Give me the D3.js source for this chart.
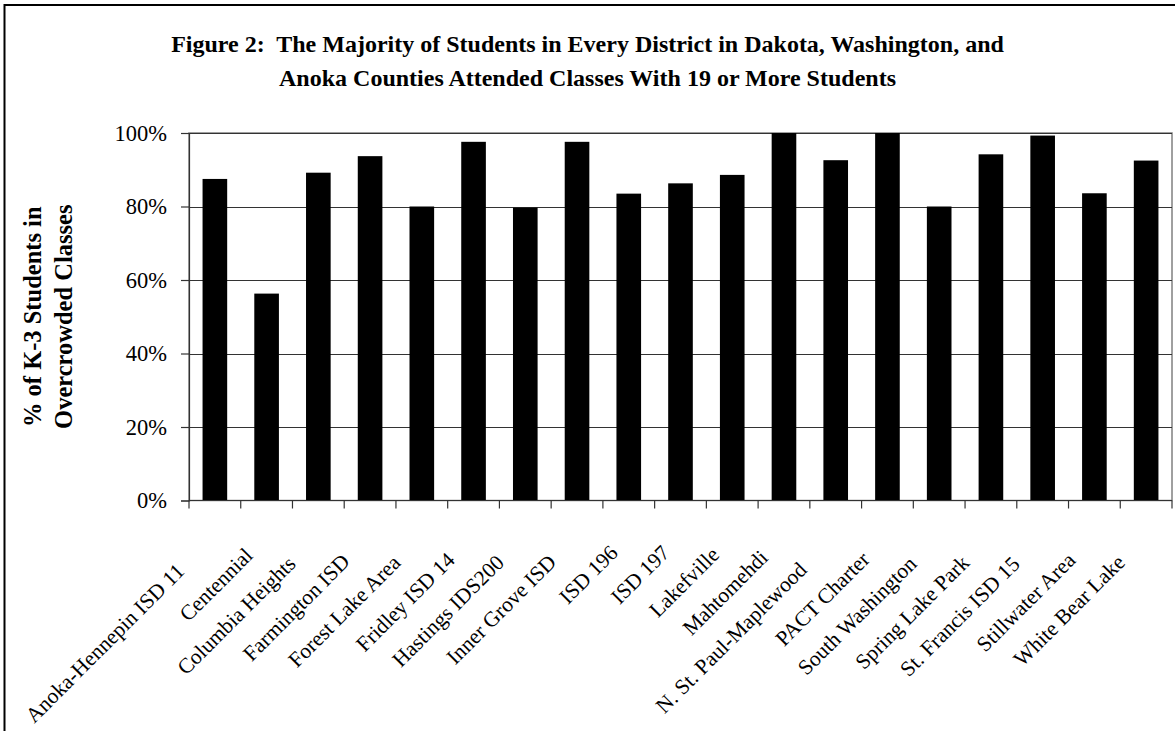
<!DOCTYPE html>
<html>
<head>
<meta charset="utf-8">
<script src="https://cdn.jsdelivr.net/npm/d3@7"></script>
<style>
  html, body { margin: 0; padding: 0; background: #fff; }
  svg { display: block; }
  text { font-family: "Liberation Serif", "Times New Roman", serif; fill: #000; white-space: pre; }
</style>
</head>
<body>
<svg id="chart" width="1175" height="731"></svg>
<script>
const categories = ["Anoka-Hennepin ISD 11","Centennial","Columbia Heights","Farmington ISD","Forest Lake Area","Fridley ISD 14","Hastings IDS200","Inner Grove ISD","ISD 196","ISD 197","Lakefville","Mahtomehdi","N. St. Paul-Maplewood","PACT Charter","South Washington","Spring Lake Park","St. Francis ISD 15","Stillwater Area","White Bear Lake"];
const values = [0.875, 0.563, 0.892, 0.937, 0.80, 0.976, 0.797, 0.976, 0.835, 0.863, 0.886, 1.0, 0.926, 1.0, 0.80, 0.942, 0.993, 0.836, 0.925];
const yTicks = [0, 0.2, 0.4, 0.6, 0.8, 1.0];
const titleLines = ["Figure 2:  The Majority of Students in Every District in Dakota, Washington, and", "Anoka Counties Attended Classes With 19 or More Students"];
const yTitleLines = ["% of K-3 Students in", "Overcrowded Classes"];

const svg = d3.select("#chart");
const W = 1175, H = 731;
const plot = {left: 189, right: 1172, top: 133, bottom: 500.5};

// outer frame
svg.append("rect").attr("x", 4.5).attr("y", 5).attr("width", W + 10).attr("height", H + 10)
  .attr("fill", "#fff").attr("stroke", "#000").attr("stroke-width", 2);

const x = d3.scaleBand().domain(categories).range([plot.left, plot.right]).padding(0);
const y = d3.scaleLinear().domain([0, 1]).range([plot.bottom, plot.top]);

// plot area border
svg.append("rect").attr("x", plot.left).attr("y", plot.top)
  .attr("width", plot.right - plot.left).attr("height", plot.bottom - plot.top)
  .attr("fill", "none").attr("stroke", "#808080").attr("stroke-width", 1.5);

// gridlines
svg.append("g").selectAll("line").data(yTicks.filter(d => d > 0)).join("line")
  .attr("x1", plot.left).attr("x2", plot.right)
  .attr("y1", d => Math.round(y(d)) + 0.5).attr("y2", d => Math.round(y(d)) + 0.5)
  .attr("stroke", "#333").attr("stroke-width", 1.2);

// bars
const bw = x.bandwidth();
const barFrac = 0.476;
svg.append("g").selectAll("rect").data(values).join("rect")
  .attr("x", (d, i) => x(categories[i]) + bw * (1 - barFrac) / 2)
  .attr("width", bw * barFrac)
  .attr("y", d => y(d))
  .attr("height", d => y(0) - y(d))
  .attr("fill", "#000");

// y axis
const yAxis = d3.axisLeft(y).tickValues(yTicks).tickSize(8).tickPadding(14)
  .tickFormat(d => Math.round(d * 100) + "%");
const gy = svg.append("g").attr("transform", `translate(${plot.left},0)`).call(yAxis);
gy.select(".domain").attr("stroke", "#333").attr("stroke-width", 1.2);
gy.selectAll(".tick line").attr("stroke", "#333").attr("stroke-width", 1.2);
gy.selectAll(".tick text").attr("font-size", 22.5).attr("font-family", "Liberation Serif");

// x axis baseline and ticks at category boundaries
const boundaries = categories.map(c => x(c)).concat([plot.right]);
svg.append("line").attr("x1", plot.left).attr("x2", plot.right)
  .attr("y1", y(0)).attr("y2", y(0)).attr("stroke", "#333").attr("stroke-width", 1.2);
svg.append("g").selectAll("line").data(boundaries).join("line")
  .attr("x1", d => d).attr("x2", d => d)
  .attr("y1", y(0)).attr("y2", y(0) + 8)
  .attr("stroke", "#333").attr("stroke-width", 1.2);

// x labels rotated (end-anchored; longer labels sit slightly lower-left, as in the original)
const xl = svg.append("g").selectAll("text").data(categories).join("text")
  .attr("text-anchor", "end")
  .attr("font-size", 21.5)
  .text(d => d);
xl.attr("transform", function(d) {
  const L = this.getComputedTextLength();
  const bx = x(d) + bw / 2 - 9.6 - 0.138 * (L - 72);
  const by = 554 + 0.13 * (L - 72);
  return `translate(${bx},${by}) rotate(-45)`;
});

// title
svg.append("g").selectAll("text").data(titleLines).join("text")
  .attr("x", 587.5).attr("y", (d, i) => 52 + i * 34)
  .attr("text-anchor", "middle").attr("font-weight", "bold").attr("font-size", 24)
  .text(d => d);

// y axis title
const yt = svg.append("g").attr("transform", `translate(0,${(plot.top + plot.bottom) / 2}) rotate(-90)`);
yt.selectAll("text").data(yTitleLines).join("text")
  .attr("x", 0).attr("y", (d, i) => 41 + i * 31)
  .attr("text-anchor", "middle").attr("font-weight", "bold").attr("font-size", 24.5)
  .text(d => d);
</script>
</body>
</html>
